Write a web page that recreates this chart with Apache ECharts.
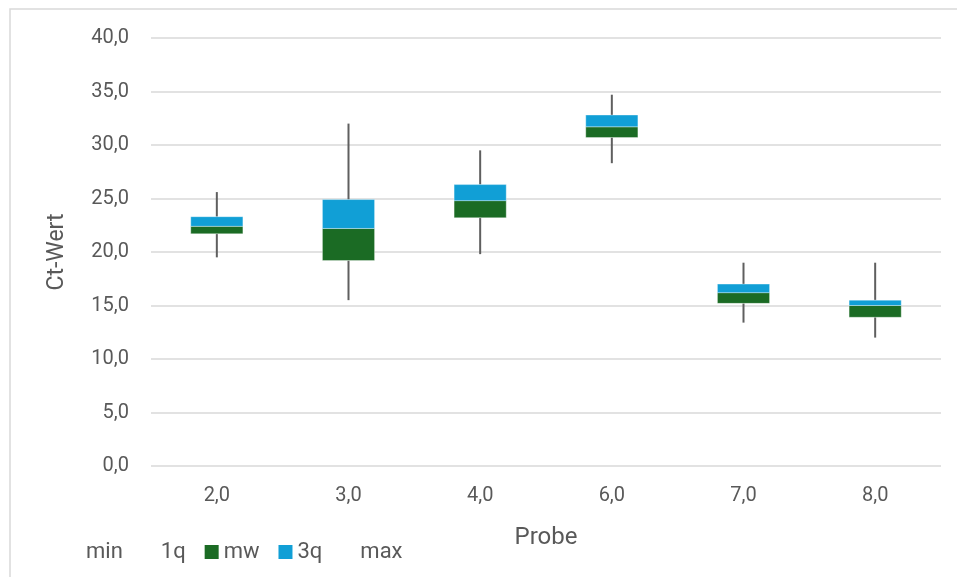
<!DOCTYPE html>
<html>
<head>
<meta charset="utf-8">
<script src="https://cdn.jsdelivr.net/npm/echarts@6/dist/echarts.min.js"></script>
<style>html,body{margin:0;padding:0;background:#fff;}#c{width:957px;height:577px;}</style>
</head>
<body>
<div id="c"></div>
<script>
const categories = ['2,0', '3,0', '4,0', '6,0', '7,0', '8,0'];
const minVals = [19.5, 15.5, 19.8, 28.3, 13.4, 12.0];
const q1Vals  = [21.7, 19.2, 23.2, 30.7, 15.2, 13.9];
const mwVals  = [22.4, 22.2, 24.8, 31.7, 16.2, 15.0];
const q3Vals  = [23.3, 24.9, 26.3, 32.8, 17.0, 15.5];
const maxVals = [25.6, 32.0, 29.5, 34.7, 19.0, 19.0];
const yTicks = { min: 0, max: 40, interval: 5 };

const FONT = 'Roboto';
const TXT = '#595959';
const GREEN = '#1b6b24';
const BLUE = '#119fd6';
const WHISK = '#5f5f5f';

function whiskerRender(params, api) {
  const x = api.value(0);
  const a = api.coord([x, api.value(1)]);
  const b = api.coord([x, api.value(2)]);
  return { type: 'line', shape: { x1: a[0], y1: a[1], x2: b[0], y2: b[1] },
           style: { stroke: WHISK, lineWidth: 2 } };
}
function boxRender(color) {
  return function (params, api) {
    const x = api.value(0);
    const w = api.size([1, 0])[0] * 0.396;
    const lo = api.coord([x, api.value(1)]);
    const hi = api.coord([x, api.value(2)]);
    return { type: 'rect',
      shape: { x: lo[0] - w / 2, y: hi[1], width: w, height: lo[1] - hi[1] },
      style: { fill: color, stroke: 'rgba(255,255,255,0.35)', lineWidth: 1 } };
  };
}

const chart = echarts.init(document.getElementById('c'), null, { renderer: 'canvas' });
chart.setOption({
  animation: false,
  backgroundColor: '#fff',
  textStyle: { fontFamily: FONT },
  graphic: [{ type: 'rect', shape: { x: 10, y: 9, width: 960, height: 600 },
    style: { fill: 'none', stroke: '#d9d9d9', lineWidth: 1.5 }, silent: true, z: -10 }],
  grid: { left: 151, right: 16, top: 38, bottom: 111, containLabel: false },
  legend: {
    left: 62, top: 536, itemWidth: 14, itemHeight: 14, itemGap: 19,
    textStyle: { fontSize: 22, color: TXT, fontFamily: FONT },
    selectedMode: false,
    data: [
      { name: 'min', itemStyle: { color: 'rgba(0,0,0,0)', borderWidth: 0 } },
      { name: '1q', itemStyle: { color: 'rgba(0,0,0,0)', borderWidth: 0 } },
      { name: 'mw', icon: 'rect', itemStyle: { color: GREEN } },
      { name: '3q', icon: 'rect', itemStyle: { color: BLUE } },
      { name: 'max', itemStyle: { color: 'rgba(0,0,0,0)', borderWidth: 0 } }
    ]
  },
  xAxis: {
    type: 'category', data: categories,
    name: 'Probe', nameLocation: 'middle', nameGap: 60,
    nameTextStyle: { fontSize: 24, color: TXT, fontFamily: FONT },
    axisLine: { show: false }, axisTick: { show: false },
    axisLabel: { fontSize: 20, color: TXT, margin: 20, fontFamily: FONT }
  },
  yAxis: {
    type: 'value', min: yTicks.min, max: yTicks.max, interval: yTicks.interval,
    name: 'Ct-Wert', nameLocation: 'middle', nameGap: 82,
    nameTextStyle: { fontSize: 23, color: TXT, fontFamily: FONT },
    axisLine: { show: false }, axisTick: { show: false },
    axisLabel: { fontSize: 20, color: TXT, margin: 22, fontFamily: FONT,
      formatter: v => v.toFixed(1).replace('.', ',') },
    splitLine: { lineStyle: { color: '#d9d9d9', width: 1.5 } }
  },
  series: [
    { name: 'min', type: 'custom', renderItem: whiskerRender, itemStyle: { color: 'rgba(0,0,0,0)' },
      encode: { x: 0, y: [1, 2] }, data: categories.map((c, i) => [i, minVals[i], q1Vals[i]]), z: 1 },
    { name: 'max', type: 'custom', renderItem: whiskerRender, itemStyle: { color: 'rgba(0,0,0,0)' },
      encode: { x: 0, y: [1, 2] }, data: categories.map((c, i) => [i, q3Vals[i], maxVals[i]]), z: 1 },
    { name: '1q', type: 'custom', renderItem: () => null, itemStyle: { color: 'rgba(0,0,0,0)' },
      encode: { x: 0, y: 1 }, data: categories.map((c, i) => [i, q1Vals[i]]), z: 1 },
    { name: 'mw', type: 'custom', renderItem: boxRender(GREEN), itemStyle: { color: GREEN },
      encode: { x: 0, y: [1, 2] }, data: categories.map((c, i) => [i, q1Vals[i], mwVals[i]]), z: 2 },
    { name: '3q', type: 'custom', renderItem: boxRender(BLUE), itemStyle: { color: BLUE },
      encode: { x: 0, y: [1, 2] }, data: categories.map((c, i) => [i, mwVals[i], q3Vals[i]]), z: 2 }
  ]
});
</script>
</body>
</html>
